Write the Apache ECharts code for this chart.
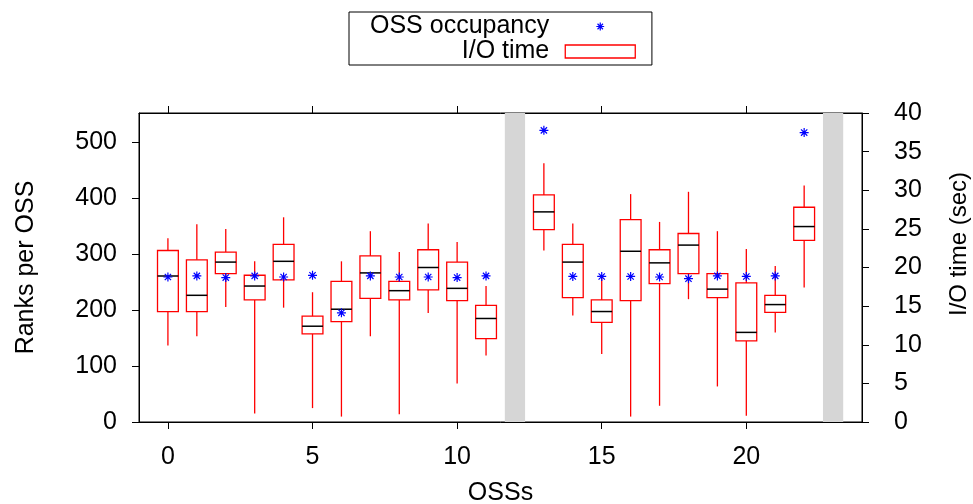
<!DOCTYPE html>
<html lang="en">
<head>
	<meta charset="UTF-8">
	<title>OSS occupancy and I/O time</title>
	<script src="https://cdn.jsdelivr.net/npm/echarts@6/dist/echarts.min.js"></script>
</head>
<body style="margin:0">

	<div id="main" style="width: 973px;height: 504px"></div>

	<script type="text/javascript">
	// OSS index (12 and 23 are the grey gaps, no data)
	var oss = [0, 1, 2, 3, 4, 5, 6, 7, 8, 9, 10, 11, 13, 14, 15, 16, 17, 18, 19, 20, 21, 22];
	var gaps = [12, 23];

	// ranks per OSS (left axis)
	var occupancy = [259, 261, 258, 261, 259, 262, 195, 261, 259, 259, 258, 261, 521, 260, 260, 260, 259, 256, 261, 260, 261, 517];

	// I/O time in sec (right axis): whisker low, Q1, median, Q3, whisker high
	var ioMin    = [9.9, 11.1, 14.9, 1.1, 14.8, 1.8, 0.7, 11.1, 1.0, 14.1, 5.0, 8.6, 22.2, 13.8, 8.8, 0.7, 2.1, 15.9, 4.6, 0.8, 11.6, 17.4];
	var ioQ1     = [14.3, 14.3, 19.2, 15.8, 18.4, 11.4, 13.0, 16.0, 15.8, 17.1, 15.7, 10.8, 24.9, 16.1, 12.9, 15.7, 17.9, 19.2, 16.1, 10.5, 14.2, 23.5];
	var ioMedian = [18.9, 16.4, 20.7, 17.6, 20.8, 12.4, 14.6, 19.3, 17.0, 20.0, 17.3, 13.4, 27.2, 20.7, 14.3, 22.1, 20.6, 22.9, 17.2, 11.6, 15.2, 25.3];
	var ioQ3     = [22.2, 21.0, 22.0, 19.0, 23.0, 13.7, 18.2, 21.5, 18.2, 22.3, 20.7, 15.1, 29.4, 23.0, 15.8, 26.2, 22.3, 24.4, 19.2, 18.0, 16.4, 27.8];
	var ioMax    = [23.8, 25.6, 25.0, 20.8, 26.5, 16.8, 20.8, 24.7, 22.0, 25.7, 23.3, 17.6, 33.5, 25.7, 18.8, 29.5, 25.9, 29.8, 24.7, 22.4, 20.2, 30.6];

	// tick labels
	var xTicks = [0, 5, 10, 15, 20];
	var leftTicks = [0, 100, 200, 300, 400, 500];
	var rightTicks = [0, 5, 10, 15, 20, 25, 30, 35, 40];

	var font = 'Liberation Sans';
	// asterisk, with empty corners so the star sits smaller inside its box
	var star = 'path://M0,0 L0,0 M20,20 L20,20 M10,4 L10,16 M4,10 L16,10 M5.8,5.8 L14.2,14.2 M14.2,5.8 L5.8,14.2';

	var boxData = [];
	for (var i = 0; i < oss.length; i++) {
		boxData.push([oss[i], ioMin[i], ioQ1[i], ioMedian[i], ioQ3[i], ioMax[i]]);
	}
	var occData = [];
	for (var i = 0; i < oss.length; i++) {
		occData.push([oss[i], occupancy[i]]);
	}
	var gapAreas = gaps.map(function (g) {
		return [{ xAxis: g - 0.35 }, { xAxis: g + 0.35 }];
	});

	function renderBox(params, api) {
		var x = api.value(0);
		var pMin = api.coord([x, api.value(1)]);
		var pQ1 = api.coord([x, api.value(2)]);
		var pMed = api.coord([x, api.value(3)]);
		var pQ3 = api.coord([x, api.value(4)]);
		var pMax = api.coord([x, api.value(5)]);
		var w = api.size([0.72, 0])[0];
		var red = { stroke: '#ff0000', lineWidth: 1.3 };
		return {
			type: 'group',
			children: [
				{ type: 'line', shape: { x1: pMin[0], y1: pMin[1], x2: pQ1[0], y2: pQ1[1] }, style: red },
				{ type: 'line', shape: { x1: pQ3[0], y1: pQ3[1], x2: pMax[0], y2: pMax[1] }, style: red },
				{ type: 'rect', shape: { x: pQ3[0] - w / 2, y: pQ3[1], width: w, height: pQ1[1] - pQ3[1] },
					style: { fill: 'none', stroke: '#ff0000', lineWidth: 1.3 } },
				{ type: 'line', shape: { x1: pMed[0] - w / 2, y1: pMed[1], x2: pMed[0] + w / 2, y2: pMed[1] },
					style: { stroke: '#000', lineWidth: 1.5 } }
			]
		};
	}

	var myChart = echarts.init(document.getElementById('main'));

	var axisLine = { show: true, onZero: false, lineStyle: { color: '#000', width: 1 } };
	var axisTick = { show: true, inside: false, length: 7, lineStyle: { color: '#000' } };

	var option = {
		animation: false,
		textStyle: { fontFamily: font },
		legend: {
			left: 349,
			top: 12,
			orient: 'vertical',
			align: 'right',
			padding: [2, 16, 1, 21],
			itemGap: 0,
			itemWidth: 70,
			itemHeight: 13,
			borderColor: '#000',
			borderWidth: 1,
			selectedMode: false,
			textStyle: { fontSize: 25, lineHeight: 24, color: '#000', fontFamily: font, padding: [0, 11, 0, 0] },
			data: [
				{ name: 'OSS occupancy', icon: star, itemStyle: { color: '#0000ff', borderColor: '#0000ff', borderWidth: 1.2 } },
				{ name: 'I/O time', icon: 'rect', itemStyle: { color: '#fff', borderColor: '#ff0000', borderWidth: 1.3 } }
			]
		},
		grid: {
			left: 139, right: 111, top: 113, bottom: 82,
			containLabel: false, outerBoundsMode: 'none',
			show: true, borderColor: '#000', borderWidth: 1
		},
		xAxis: [{
			type: 'value', min: -1, max: 24, position: 'bottom',
			name: 'OSSs', nameLocation: 'middle', nameGap: 59,
			nameTextStyle: { fontSize: 25, color: '#000', fontFamily: font },
			axisLine: axisLine, axisTick: Object.assign({ customValues: xTicks }, axisTick),
			axisLabel: { customValues: xTicks, fontSize: 25, color: '#000', margin: 23, fontFamily: font },
			splitLine: { show: false }
		}, {
			type: 'value', min: -1, max: 24, position: 'top',
			axisLine: axisLine, axisTick: Object.assign({ customValues: xTicks }, axisTick),
			axisLabel: { show: false },
			splitLine: { show: false }
		}],
		yAxis: [{
			type: 'value', min: 0, max: 552, position: 'left',
			name: 'Ranks per OSS', nameLocation: 'middle', nameGap: 100,
			nameTextStyle: { fontSize: 25, color: '#000', fontFamily: font },
			axisLine: axisLine, axisTick: Object.assign({ customValues: leftTicks }, axisTick),
			axisLabel: { customValues: leftTicks, fontSize: 25, color: '#000', margin: 22, fontFamily: font },
			splitLine: { show: false }
		}, {
			type: 'value', min: 0, max: 40, position: 'right',
			name: 'I/O time (sec)', nameLocation: 'middle', nameGap: 85,
			nameTextStyle: { fontSize: 24, color: '#000', fontFamily: font, padding: [0, 0, 0, 47] },
			axisLine: axisLine, axisTick: Object.assign({ customValues: rightTicks }, axisTick),
			axisLabel: { customValues: rightTicks, fontSize: 25, color: '#000', margin: 32, fontFamily: font },
			splitLine: { show: false }
		}],
		series: [{
			name: 'I/O time',
			type: 'custom',
			xAxisIndex: 0,
			yAxisIndex: 1,
			itemStyle: { color: '#ff0000' },
			encode: { x: 0, y: [1, 2, 3, 4, 5] },
			renderItem: renderBox,
			data: boxData,
			silent: true,
			markArea: {
				silent: true,
				itemStyle: { color: '#d6d6d6' },
				data: gapAreas
			}
		}, {
			name: 'OSS occupancy',
			type: 'scatter',
			xAxisIndex: 0,
			yAxisIndex: 0,
			symbol: star,
			symbolSize: 15,
			itemStyle: { color: '#0000ff', borderColor: '#0000ff', borderWidth: 1.2, opacity: 1 },
			data: occData,
			silent: true,
			z: 5
		}]
	};
	myChart.setOption(option);
	</script>

</body>
</html>
